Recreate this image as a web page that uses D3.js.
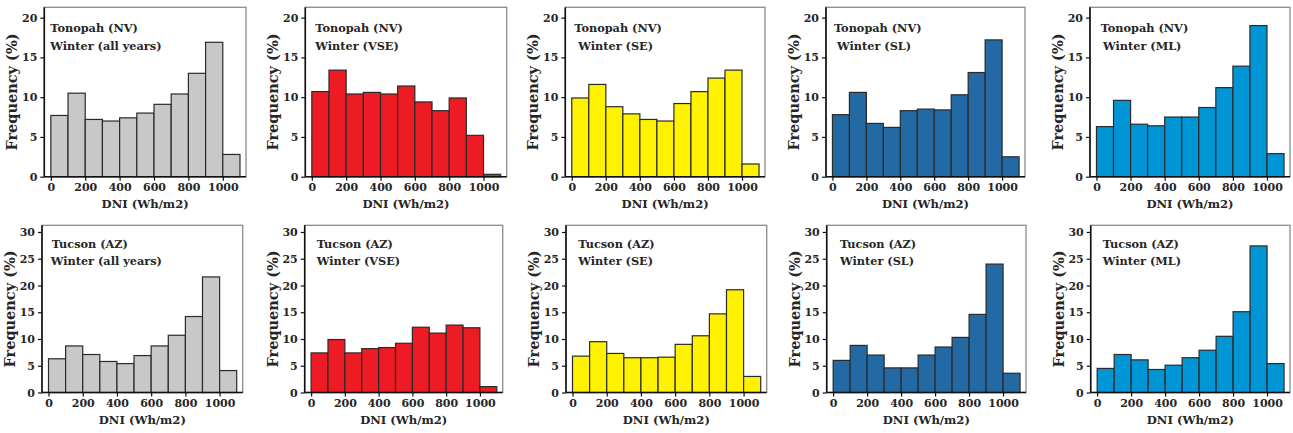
<!doctype html>
<html>
  <head>
    <meta charset="utf-8">
    <title>DNI winter histograms: Tonopah and Tucson</title>
    <script src="https://cdnjs.cloudflare.com/ajax/libs/d3/7.8.5/d3.min.js"></script>
    <style>
      body { margin: 0; background: #fff; }
      text { font-family: "DejaVu Serif", serif; font-weight: bold; fill: #262626; }
    </style>
  </head>
  <body>
    <div id="chart"></div>
    <script>
      // bin starts (Wh/m2), each bin is 100 wide
      const binStarts = [0, 100, 200, 300, 400, 500, 600, 700, 800, 900, 1000];
      const xTicks = [0, 200, 400, 600, 800, 1000];

      const stations = ['Tonopah (NV)', 'Tucson (AZ)'];
      const periods = ['Winter (all years)', 'Winter (VSE)', 'Winter (SE)', 'Winter (SL)', 'Winter (ML)'];
      const colors = ['#c8c8c8', '#ed1c24', '#fff200', '#2369a3', '#0096d6'];
      const yTicksTop = [0, 5, 10, 15, 20];
      const yTicksBottom = [0, 5, 10, 15, 20, 25, 30];

      // frequency (%) per bin
      const tonopahAll = [7.7, 10.5, 7.2, 7.0, 7.4, 8.0, 9.1, 10.4, 13.0, 16.9, 2.8];
      const tonopahVSE = [10.7, 13.4, 10.4, 10.6, 10.4, 11.4, 9.4, 8.3, 9.9, 5.2, 0.3];
      const tonopahSE  = [9.9, 11.6, 8.8, 7.9, 7.2, 7.0, 9.2, 10.7, 12.4, 13.4, 1.6];
      const tonopahSL  = [7.8, 10.6, 6.7, 6.2, 8.3, 8.5, 8.4, 10.3, 13.1, 17.2, 2.5];
      const tonopahML  = [6.3, 9.6, 6.6, 6.4, 7.5, 7.5, 8.7, 11.2, 13.9, 19.0, 2.9];
      const tucsonAll  = [6.3, 8.7, 7.1, 5.8, 5.4, 6.9, 8.7, 10.7, 14.2, 21.6, 4.1];
      const tucsonVSE  = [7.4, 9.9, 7.4, 8.2, 8.4, 9.2, 12.2, 11.1, 12.6, 12.1, 1.1];
      const tucsonSE   = [6.8, 9.5, 7.3, 6.5, 6.5, 6.6, 9.0, 10.6, 14.7, 19.2, 3.0];
      const tucsonSL   = [6.0, 8.8, 7.0, 4.6, 4.6, 7.0, 8.5, 10.3, 14.6, 24.0, 3.6];
      const tucsonML   = [4.5, 7.1, 6.1, 4.3, 5.1, 6.5, 7.9, 10.5, 15.1, 27.4, 5.4];

      const rows = [
        [tonopahAll, tonopahVSE, tonopahSE, tonopahSL, tonopahML],
        [tucsonAll, tucsonVSE, tucsonSE, tucsonSL, tucsonML]
      ];

      // layout (pixels)
      const W = 1293, H = 433;
      const lefts = [[44.3, 305.3, 565.3, 826, 1090], [42, 304.7, 566, 826.7, 1090.7]];
      const rights = [[246, 506.7, 765, 1025, 1290], [242.7, 502.7, 766.7, 1026, 1290]];
      const tops = [7.3, 225.3], bottoms = [176.7, 392.5];
      const yMax = [21.3, 31.25];
      const titleDx = [
        [[6, 6], [10, 10], [9, 13], [8, 11], [10.7, 13]],
        [[9.7, 8.7], [12, 12], [12.3, 12.3], [13.3, 13.3], [12, 12]]
      ];
      const titleY = [[32, 50], [248, 265]];

      const svg = d3.select('#chart').append('svg')
        .attr('width', W)
        .attr('height', H);

      rows.forEach(function(row, r) {
        const yTicks = r == 0 ? yTicksTop : yTicksBottom;
        row.forEach(function(values, c) {
          const x0 = lefts[r][c], x1 = rights[r][c];
          const x = d3.scaleLinear().domain([-38, 1135]).range([x0, x1]);
          const y = d3.scaleLinear().domain([0, yMax[r]]).range([bottoms[r], tops[r]]);
          const g = svg.append('g');

          // box: top and right in grey
          g.append('rect')
            .attr('x', x0).attr('y', tops[r])
            .attr('width', x1 - x0).attr('height', bottoms[r] - tops[r])
            .attr('fill', 'none')
            .attr('stroke', '#8a8a8a')
            .attr('stroke-width', 1.3);

          // bars
          g.selectAll('rect.bar')
            .data(values)
            .join('rect')
            .attr('class', 'bar')
            .attr('x', (d, i) => x(binStarts[i]))
            .attr('width', (d, i) => x(binStarts[i] + 100) - x(binStarts[i]))
            .attr('y', d => y(d))
            .attr('height', d => y(0) - y(d))
            .attr('fill', colors[c])
            .attr('stroke', '#2a2a2a')
            .attr('stroke-width', 1.2);

          // axes
          const xAxis = g.append('g')
            .attr('transform', `translate(0,${bottoms[r]})`)
            .call(d3.axisBottom(x).tickValues(xTicks).tickFormat(d3.format('d')).tickSize(4).tickPadding(3));
          const yAxis = g.append('g')
            .attr('transform', `translate(${x0},0)`)
            .call(d3.axisLeft(y).tickValues(yTicks).tickFormat(d3.format('d')).tickSize(4).tickPadding(3));
          [xAxis, yAxis].forEach(function(a) {
            a.select('.domain').attr('stroke', '#111').attr('stroke-width', 1.6);
            a.selectAll('.tick line').attr('stroke', '#111').attr('stroke-width', 1.2);
            a.selectAll('.tick text')
              .style('font-size', '11px')
              .style('font-family', '"DejaVu Serif", serif')
              .style('font-weight', 'bold')
              .attr('fill', '#262626');
          });
          xAxis.select('.domain').attr('d', `M${x0},0H${x1}`);
          yAxis.select('.domain').attr('d', `M0,${bottoms[r]}V${tops[r]}`);

          // axis labels
          g.append('text')
            .attr('x', (x0 + x1) / 2)
            .attr('y', bottoms[r] + 31)
            .attr('text-anchor', 'middle')
            .style('font-size', '11.6px')
            .text('DNI (Wh/m2)');

          g.append('text')
            .attr('transform', `translate(${x0 - 27},${(tops[r] + bottoms[r]) / 2}) rotate(-90)`)
            .attr('text-anchor', 'middle')
            .style('font-size', '14.5px')
            .text('Frequency (%)');

          // titles
          g.append('text')
            .attr('x', x0 + titleDx[r][c][0])
            .attr('y', titleY[r][0])
            .style('font-size', '11.3px')
            .text(stations[r]);
          g.append('text')
            .attr('x', x0 + titleDx[r][c][1])
            .attr('y', titleY[r][1])
            .style('font-size', '11.3px')
            .text(periods[c]);
        });
      });
    </script>
  </body>
</html>
